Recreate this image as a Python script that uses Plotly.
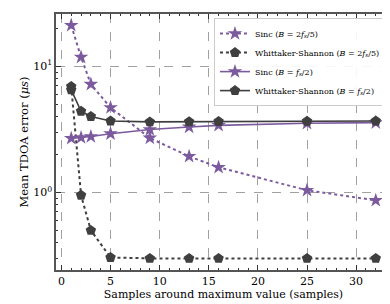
import plotly.graph_objects as go

samples = [1, 2, 3, 5, 9, 13, 16, 25, 32]
sinc_25 = [21.1, 11.8, 7.2, 4.7, 2.7, 1.93, 1.58, 1.04, 0.865]
ws_25 = [6.9, 0.95, 0.50, 0.305, 0.30, 0.30, 0.30, 0.30, 0.30]
sinc_2 = [2.68, 2.72, 2.77, 2.92, 3.15, 3.3, 3.4, 3.53, 3.57]
ws_2 = [6.5, 4.4, 4.0, 3.68, 3.62, 3.63, 3.65, 3.66, 3.68]

names = [
    "Sinc (<i>B</i> = 2<i>f<sub>s</sub></i>/5)",
    "Whittaker-Shannon (<i>B</i> = 2<i>f<sub>s</sub></i>/5)",
    "Sinc (<i>B</i> = <i>f<sub>s</sub></i>/2)",
    "Whittaker-Shannon (<i>B</i> = <i>f<sub>s</sub></i>/2)",
]
yticks = [1, 10]
ytext = ["10<sup>0</sup>", "10<sup>1</sup>"]
xticks = [0, 5, 10, 15, 20, 25, 30]

purple = "#7b5a9e"
dark = "#3f3f3f"
FONT = "DejaVu Serif"

fig = go.Figure()
fig.add_trace(go.Scatter(x=samples, y=sinc_25, name=names[0], mode="lines+markers",
                         line=dict(color=purple, width=2, dash="dot"),
                         marker=dict(symbol="star", size=11, color=purple)))
fig.add_trace(go.Scatter(x=samples, y=ws_25, name=names[1], mode="lines+markers",
                         line=dict(color=dark, width=2, dash="dot"),
                         marker=dict(symbol="pentagon", size=11, color=dark)))
fig.add_trace(go.Scatter(x=samples, y=sinc_2, name=names[2], mode="lines+markers",
                         line=dict(color=purple, width=1.6),
                         marker=dict(symbol="star", size=11, color=purple)))
fig.add_trace(go.Scatter(x=samples, y=ws_2, name=names[3], mode="lines+markers",
                         line=dict(color=dark, width=1.6),
                         marker=dict(symbol="pentagon", size=11, color=dark)))

axis_common = dict(showline=True, linecolor="#555555", linewidth=1.5, mirror="ticks",
                   ticks="inside", ticklen=5, tickcolor="#333333", tickwidth=1,
                   showgrid=True, gridcolor="#a0a0a0", griddash="dash", gridwidth=0.8,
                   zeroline=False, automargin=False,
                   tickfont=dict(family=FONT, size=11, color="black"))

fig.update_xaxes(range=[-0.55, 33.55], tickvals=xticks,
                 minor=dict(ticks="inside", ticklen=2.5, dtick=1, tickcolor="#333333", showgrid=False),
                 title=dict(text="Samples around maximum value (samples)",
                            font=dict(family=FONT, size=11, color="black"), standoff=2),
                 **axis_common)
fig.update_yaxes(type="log", range=[-0.615, 1.414], tickvals=yticks, ticktext=ytext,
                 minor=dict(ticks="inside", ticklen=2.5, dtick="D1", tickcolor="#333333", showgrid=False),
                 title=dict(text="Mean TDOA error (<i>μs</i>)",
                            font=dict(family=FONT, size=11.5, color="black"), standoff=2),
                 **axis_common)

fig.update_layout(
    width=390, height=304,
    margin=dict(l=48, r=7, t=6, b=42),
    paper_bgcolor="white", plot_bgcolor="white",
    font=dict(family=FONT, color="black"),
    legend=dict(x=0.985, y=0.984, xanchor="right", yanchor="top",
                bgcolor="rgba(255,255,255,0.9)", bordercolor="#cccccc", borderwidth=1,
                font=dict(family=FONT, size=8), tracegroupgap=0, itemwidth=30),
    showlegend=True,
)

fig.write_html("out.html")
